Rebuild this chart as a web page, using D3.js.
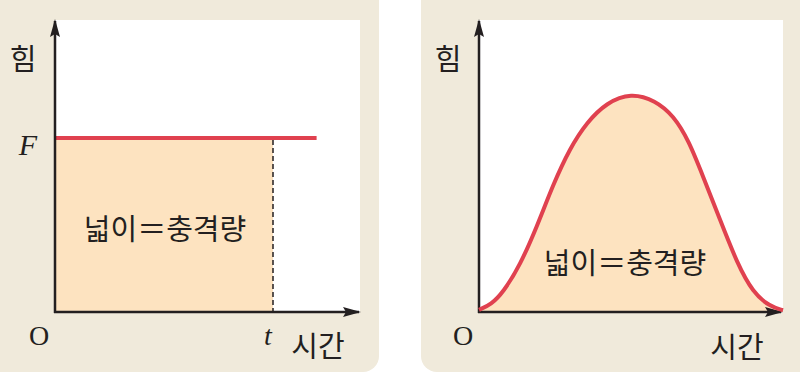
<!DOCTYPE html>
<html>
<head>
<meta charset="utf-8">
<script src="https://cdn.jsdelivr.net/npm/d3@7"></script>
<style>
  body { margin: 0; background: #fff; }
  svg { display: block; }
</style>
</head>
<body>
<script>
// left: constant force F from 0 to t
var constTime = [0, 1.2];
var constForce = [1, 1];
var impactEnd = 1;

// right: varying force over time (normalised)
var bellTime = [0, 0.04, 0.079, 0.135, 0.191, 0.243, 0.299, 0.355, 0.42, 0.5, 0.58, 0.64, 0.69, 0.737, 0.793, 0.849, 0.901, 0.957, 1.0];
var bellForce = [0.01, 0.035, 0.09, 0.215, 0.395, 0.585, 0.755, 0.875, 0.965, 1.01, 0.975, 0.905, 0.79, 0.625, 0.425, 0.225, 0.09, 0.025, 0.008];

var yLabel = "힘";
var xLabel = "시간";
var areaLabel = "넓이＝충격량";

var W = 800, H = 374;
var panelCol = "#f0eadb";
var fillCol = "#fde3c0";
var red = "#e0414f";
var ink = "#231f20";
var kr = "'Noto Sans CJK KR', 'Noto Sans', sans-serif";
var serif = "'Liberation Serif', 'DejaVu Serif', serif";

var svg = d3.select("body").append("svg")
    .attr("width", W)
    .attr("height", H);

var defs = svg.append("defs");
defs.append("marker")
    .attr("id", "arr")
    .attr("viewBox", "0 0 18 10")
    .attr("refX", 16)
    .attr("refY", 5)
    .attr("markerWidth", 18)
    .attr("markerHeight", 10)
    .attr("markerUnits", "userSpaceOnUse")
    .attr("orient", "auto")
    .append("path")
    .attr("d", "M0,0 L18,5 L0,10 L3,5 Z")
    .attr("fill", ink);

function panel(px, pw, plot) {
    var g = svg.append("g");
    g.append("rect")
        .attr("x", px).attr("y", -20)
        .attr("width", pw).attr("height", 392 )
        .attr("rx", 16)
        .attr("fill", panelCol);
    g.append("rect")
        .attr("x", plot.x0).attr("y", 20)
        .attr("width", plot.x1 - plot.x0).attr("height", 293)
        .attr("fill", "#fff");
    return g;
}

function axes(g, x0, y0, xEnd) {
    g.append("line")
        .attr("x1", x0).attr("y1", y0 + 1)
        .attr("x2", x0).attr("y2", 21)
        .attr("stroke", ink).attr("stroke-width", 2.5)
        .attr("marker-end", "url(#arr)");
    g.append("line")
        .attr("x1", x0 - 1).attr("y1", y0)
        .attr("x2", xEnd).attr("y2", y0)
        .attr("stroke", ink).attr("stroke-width", 2.5)
        .attr("marker-end", "url(#arr)");
}

// ---- left panel ----
var gL = panel(-20, 399, {x0: 55, x1: 360});
var xL = d3.scaleLinear().domain([0, impactEnd]).range([55, 273]);
var yL = d3.scaleLinear().domain([0, 1]).range([312, 138]);

gL.append("rect")
    .attr("x", xL(0)).attr("y", yL(constForce[0]))
    .attr("width", xL(impactEnd) - xL(0))
    .attr("height", yL(0) - yL(constForce[0]))
    .attr("fill", fillCol);

gL.append("line")
    .attr("x1", xL(impactEnd)).attr("x2", xL(impactEnd))
    .attr("y1", yL(1) + 2).attr("y2", yL(0))
    .attr("stroke", ink).attr("stroke-width", 1.5)
    .attr("stroke-dasharray", "5,3");

gL.append("path")
    .datum(d3.zip(constTime, constForce))
    .attr("d", d3.line().x(function (d) { return xL(d[0]); }).y(function (d) { return yL(d[1]); }))
    .attr("fill", "none")
    .attr("stroke", red)
    .attr("stroke-width", 4);

axes(gL, 55, 312, 359);

gL.append("text").text(yLabel)
    .attr("x", 23).attr("y", 70)
    .attr("text-anchor", "middle")
    .attr("font-family", kr).attr("font-size", 29).attr("fill", ink);
gL.append("text").text("F")
    .attr("x", 28).attr("y", 155)
    .attr("text-anchor", "middle")
    .attr("font-family", serif).attr("font-style", "italic")
    .attr("font-size", 30).attr("fill", ink);
gL.append("text").text("O")
    .attr("x", 39).attr("y", 345)
    .attr("text-anchor", "middle")
    .attr("font-family", serif)
    .attr("font-size", 28).attr("fill", ink);
gL.append("text").text("t")
    .attr("x", xL(impactEnd) - 5).attr("y", 345)
    .attr("text-anchor", "middle")
    .attr("font-family", serif).attr("font-style", "italic")
    .attr("font-size", 28).attr("fill", ink);
gL.append("text").text(xLabel)
    .attr("x", 318).attr("y", 357)
    .attr("text-anchor", "middle")
    .attr("font-family", kr).attr("font-size", 29).attr("fill", ink);
gL.append("text").text(areaLabel)
    .attr("x", 165).attr("y", 240)
    .attr("text-anchor", "middle")
    .attr("font-family", kr).attr("font-size", 29).attr("fill", ink);

// ---- right panel ----
var gR = panel(421, 400, {x0: 478, x1: 783});
var xR = d3.scaleLinear().domain([0, 1]).range([479, 783]);
var yR = d3.scaleLinear().domain([0, 1]).range([312, 95]);

var pts = d3.zip(bellTime, bellForce);

gR.append("path")
    .datum(pts)
    .attr("d", d3.area()
        .x(function (d) { return xR(d[0]); })
        .y0(yR(0))
        .y1(function (d) { return yR(d[1]); })
        .curve(d3.curveBasis))
    .attr("fill", fillCol);

axes(gR, 479, 312, 781);

gR.append("path")
    .datum(pts)
    .attr("d", d3.line()
        .x(function (d) { return xR(d[0]); })
        .y(function (d) { return yR(d[1]); })
        .curve(d3.curveBasis))
    .attr("fill", "none")
    .attr("stroke", red)
    .attr("stroke-width", 4);

gR.append("text").text(yLabel)
    .attr("x", 448).attr("y", 70)
    .attr("text-anchor", "middle")
    .attr("font-family", kr).attr("font-size", 29).attr("fill", ink);
gR.append("text").text("O")
    .attr("x", 463).attr("y", 345)
    .attr("text-anchor", "middle")
    .attr("font-family", serif)
    .attr("font-size", 28).attr("fill", ink);
gR.append("text").text(xLabel)
    .attr("x", 737).attr("y", 358)
    .attr("text-anchor", "middle")
    .attr("font-family", kr).attr("font-size", 29).attr("fill", ink);
gR.append("text").text(areaLabel)
    .attr("x", 625).attr("y", 274)
    .attr("text-anchor", "middle")
    .attr("font-family", kr).attr("font-size", 29).attr("fill", ink);
</script>
</body>
</html>
